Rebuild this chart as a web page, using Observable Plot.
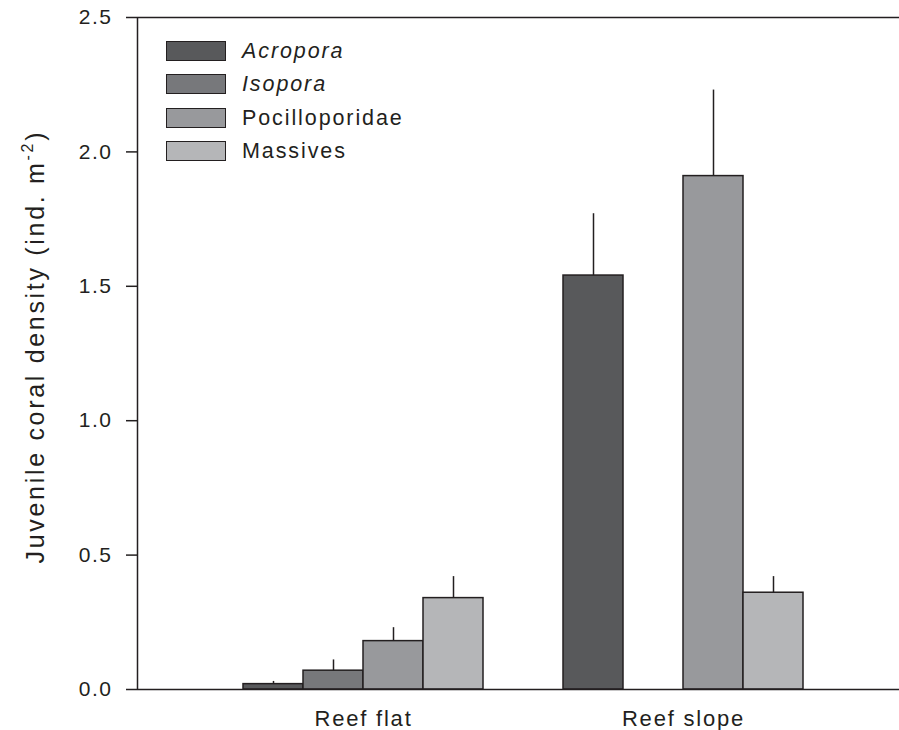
<!DOCTYPE html>
<html><head><meta charset="utf-8">
<script src="https://cdn.jsdelivr.net/npm/d3@7"></script>
<script src="https://cdn.jsdelivr.net/npm/@observablehq/plot@0.6"></script>
<style>
body{margin:0;background:#fff;}
#wrap{position:relative;width:899px;height:730px;font-family:"Liberation Sans",Arial,sans-serif;color:#231f20;}
.legend{position:absolute;left:166px;top:41px;}
.item{display:flex;align-items:center;height:20px;margin-bottom:13.3px;}
.sw{box-sizing:border-box;width:60px;height:20px;border:1.5px solid #231f20;margin-right:16px;}
.lab{font-size:21.5px;letter-spacing:1.9px;line-height:20px;}
g[aria-label="y-axis tick label"] text{letter-spacing:1.5px;}
g[aria-label="x-axis tick label"] text{letter-spacing:1.8px;}
</style></head><body><div id="wrap"></div>
<script>
const groups = ["Reef flat", "Reef slope"];
const species = ["Acropora", "Isopora", "Pocilloporidae", "Massives"];
const italicSpecies = ["Acropora", "Isopora"];
const speciesColors = ["#58595b", "#77787b", "#98999c", "#b5b6b8"];
const flatMeans = [0.02, 0.07, 0.18, 0.34];
const flatUpper = [0.03, 0.11, 0.23, 0.42];
const slopeMeans = [1.54, null, 1.91, 0.36];
const slopeUpper = [1.77, null, 2.23, 0.42];
const yTicks = [0, 0.5, 1.0, 1.5, 2.0, 2.5];
const yTitle = "Juvenile coral density (ind. m";

const means = [flatMeans, slopeMeans];
const uppers = [flatUpper, slopeUpper];
const rows = [];
groups.forEach((g, gi) => species.forEach((s, si) => {
  const m = means[gi][si];
  if (m == null) return;
  rows.push({group: g, gi, species: s, si, mean: m, upper: uppers[gi][si]});
}));

const barW = 0.1875; // bar width as fraction of group spacing
const left = d => d.gi + (d.si - 2) * barW;
const right = d => d.gi + (d.si - 1) * barW;
const mid = d => d.gi + (d.si - 1.5) * barW;
const xDomain = [-0.70625, 1.675];

const chart = Plot.plot({
  width: 899, height: 730,
  marginTop: 17, marginBottom: 41, marginLeft: 137, marginRight: 0,
  x: {type: "linear", domain: xDomain, axis: null},
  y: {domain: [0, 2.5], axis: null},
  color: {domain: species, range: speciesColors},
  style: {fontFamily: '"Liberation Sans", Arial, sans-serif', color: "#231f20", background: "#fff"},
  marks: [
    Plot.rect(rows, {x1: left, x2: right, y1: 0, y2: "mean", fill: "species", stroke: "#231f20", strokeWidth: 1.5}),
    Plot.ruleX(rows.filter(d => d.upper != null), {x: mid, y1: "mean", y2: "upper", stroke: "#231f20", strokeWidth: 1.5}),
    Plot.ruleY([0, 2.5], {stroke: "#231f20", strokeWidth: 1.5}),
    Plot.ruleX([xDomain[0]], {stroke: "#231f20", strokeWidth: 1.5}),
    Plot.axisY({ticks: yTicks, tickSize: 11, tickPadding: 14, tickFormat: d3.format(".1f"), fontSize: 21, label: null, stroke: "#231f20", strokeWidth: 1.5, fill: "#231f20"}),
    Plot.axisX({ticks: [0, 1], tickSize: 0, tickPadding: 21, tickFormat: i => groups[i], fontSize: 22, label: null, fill: "#231f20"})
  ]
});
const wrap = document.getElementById("wrap");
wrap.appendChild(chart);

// y-axis title with superscript
const svg = d3.select(chart);
const t = svg.append("text")
  .attr("transform", "translate(44,348) rotate(-90)")
  .attr("text-anchor", "middle")
  .attr("font-size", 25)
  .attr("fill", "#231f20")
  .attr("textLength", 431)
  .attr("lengthAdjust", "spacing");
t.append("tspan").text(yTitle);
t.append("tspan").attr("font-size", 16).attr("dy", -11).text("-2");
t.append("tspan").attr("dy", 11).text(")");

// legend
const lg = document.createElement("div");
lg.className = "legend";
species.forEach((s, i) => {
  const it = document.createElement("div"); it.className = "item";
  const sw = document.createElement("div"); sw.className = "sw"; sw.style.background = speciesColors[i];
  const lb = document.createElement("span"); lb.className = "lab"; lb.textContent = s;
  if (italicSpecies.includes(s)) lb.style.fontStyle = "italic";
  it.appendChild(sw); it.appendChild(lb); lg.appendChild(it);
});
wrap.appendChild(lg);
</script></body></html>
